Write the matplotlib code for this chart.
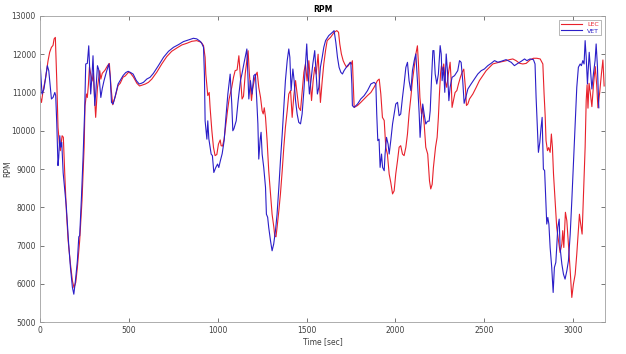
import matplotlib
matplotlib.use("Agg")
import matplotlib.pyplot as plt

# LEC (red) - time [sec] and rpm
lec_t = [0, 8, 17, 30, 45, 54, 64, 73, 79, 86, 94, 101, 108, 114, 124, 131, 139, 148, 158, 171,
         182, 191, 201, 210, 223, 236, 248, 253, 261, 266, 272, 278, 286, 293, 300, 305, 313, 323,
         336, 342, 350, 365, 380, 390, 400, 409, 423, 439, 451, 467, 479, 498, 510, 526, 545, 560,
         573, 592, 610, 629, 657, 685, 713, 741, 770, 798, 826, 854, 882, 907, 920, 929, 933, 944,
         952, 957, 967, 976, 985, 995, 1004, 1014, 1019, 1027, 1036, 1046, 1055, 1064, 1079, 1089,
         1098, 1109, 1119, 1128, 1137, 1145, 1155, 1171, 1178, 1190, 1197, 1209, 1222, 1231, 1241,
         1250, 1256, 1262, 1269, 1278, 1287, 1297, 1306, 1316, 1321, 1328, 1334, 1344, 1353, 1363,
         1372, 1381, 1391, 1400, 1410, 1419, 1428, 1438, 1447, 1456, 1466, 1475, 1485, 1494, 1503,
         1513, 1521, 1528, 1537, 1546, 1554, 1565, 1572, 1578, 1588, 1597, 1607, 1616, 1635, 1655,
         1670, 1680, 1687, 1696, 1706, 1715, 1725, 1735, 1745, 1752, 1758, 1763, 1768, 1787, 1805,
         1824, 1843, 1862, 1880, 1899, 1909, 1918, 1927, 1937, 1946, 1955, 1965, 1974, 1984, 1993,
         2002, 2012, 2021, 2030, 2040, 2049, 2059, 2068, 2077, 2087, 2096, 2106, 2115, 2124, 2130,
         2138, 2147, 2153, 2162, 2171, 2182, 2192, 2199, 2207, 2214, 2226, 2235, 2242, 2248, 2254,
         2259, 2267, 2272, 2280, 2289, 2298, 2308, 2314, 2319, 2327, 2336, 2346, 2355, 2366, 2376,
         2385, 2394, 2400, 2408, 2417, 2436, 2455, 2473, 2492, 2511, 2530, 2548, 2567, 2586, 2605,
         2623, 2642, 2661, 2680, 2699, 2717, 2736, 2758, 2777, 2796, 2815, 2830, 2837, 2843, 2848,
         2856, 2863, 2871, 2878, 2884, 2890, 2899, 2908, 2918, 2927, 2937, 2942, 2948, 2957, 2965,
         2974, 2984, 2993, 3002, 3012, 3021, 3030, 3036, 3043, 3051, 3059, 3068, 3074, 3079, 3084,
         3090, 3097, 3106, 3115, 3125, 3133, 3140, 3150, 3160, 3168, 3175]
lec_rpm = [10900, 10740, 11050, 11350, 11830, 12050, 12180, 12230, 12400, 12440, 11310, 10090, 9700,
           9480, 9870, 9830, 8870, 7910, 7130, 6520, 6080, 5900, 6040, 6430, 7130, 8170, 9570, 10650,
           10960, 10870, 11200, 11670, 11460, 11300, 11500, 11000, 10350, 11130, 11570, 11350, 11500,
           11580, 11700, 11760, 11100, 10680, 10890, 11180, 11240, 11400, 11430, 11530, 11500, 11400,
           11240, 11170, 11190, 11220, 11265, 11350, 11530, 11745, 11937, 12076, 12163, 12242, 12285,
           12337, 12355, 12311, 12224, 11919, 11480, 10920, 11000, 10610, 10000, 9570, 9350, 9380,
           9650, 9760, 9610, 9600, 9780, 10180, 10520, 10830, 11135, 11400, 11570, 11590, 11960,
           11400, 10830, 10900, 11500, 12090, 11500, 10790, 11100, 11400, 11530, 11135, 10870, 10520,
           10440, 10600, 10350, 9740, 8960, 8350, 7820, 7475, 7250, 7230, 7475, 7910, 8350, 8960,
           9570, 10090, 10520, 10960, 11050, 10350, 10900, 11310, 10960, 10610, 10530, 11000, 11530,
           11745, 11300, 11830, 11300, 10790, 11300, 11660, 11480, 12000, 11300, 10740, 11300, 11745,
           12100, 12355, 12440, 12570, 12616, 12573, 12268, 12006, 11832, 11740, 11660, 11700, 11790,
           11740, 11830, 11220, 10610, 10660, 10740, 10830, 10920, 11000, 11135, 11310, 11350, 10960,
           10350, 10270, 9570, 9390, 8870, 8650, 8350, 8430, 8870, 9220, 9570, 9610, 9390, 9350, 9570,
           9915, 10440, 10870, 11310, 11660, 12000, 12220, 11740, 10870, 10440, 10610, 10180, 9570,
           9390, 8690, 8480, 8600, 9040, 9570, 9830, 10350, 10960, 11480, 11700, 11570, 11745, 11310,
           11135, 11480, 11790, 11310, 10610, 10790, 11000, 11050, 11220, 11400, 11530, 11610, 11135,
           10660, 10700, 10830, 10960, 11135, 11310, 11440, 11570, 11660, 11745, 11770, 11790, 11810,
           11830, 11858, 11876, 11830, 11763, 11745, 11760, 11850, 11894, 11894, 11876, 11745, 10960,
           10400, 9740, 9480, 9560, 9436, 9915, 9560, 8870, 8170, 7475, 7130, 6820, 7040, 7390, 6950,
           7870, 7650, 7040, 6340, 5645, 5990, 6250, 6780, 7390, 7820, 7560, 7300, 8350, 9570, 10790,
           11200, 10590, 11240, 11000, 10630, 11200, 11675, 11200, 10600, 11000, 11500, 11850, 11170]

# VET (blue)
vet_t = [0, 11, 22, 41, 49, 64, 73, 83, 88, 94, 101, 105, 111, 116, 122, 130, 148, 161, 171, 182,
         190, 199, 210, 218, 223, 233, 242, 251, 257, 266, 274, 282, 285, 293, 298, 303, 308, 315,
         323, 330, 336, 342, 350, 360, 373, 387, 395, 402, 411, 423, 439, 453, 467, 482, 496, 510,
         524, 542, 558, 570, 582, 601, 619, 638, 666, 695, 723, 751, 779, 807, 835, 863, 882, 901,
         910, 920, 925, 929, 939, 944, 950, 963, 970, 978, 989, 999, 1006, 1015, 1025, 1036, 1046,
         1057, 1070, 1079, 1085, 1091, 1104, 1115, 1128, 1137, 1147, 1164, 1171, 1175, 1184, 1193,
         1203, 1212, 1218, 1226, 1231, 1239, 1244, 1250, 1259, 1269, 1274, 1281, 1287, 1297, 1306,
         1315, 1325, 1334, 1344, 1353, 1363, 1372, 1381, 1391, 1400, 1406, 1413, 1423, 1430, 1438,
         1447, 1456, 1466, 1475, 1485, 1494, 1501, 1509, 1516, 1525, 1535, 1546, 1553, 1561, 1569,
         1578, 1588, 1597, 1607, 1625, 1646, 1655, 1665, 1674, 1683, 1693, 1702, 1711, 1730, 1749,
         1755, 1758, 1768, 1787, 1805, 1824, 1843, 1862, 1880, 1890, 1895, 1901, 1908, 1914, 1922,
         1928, 1937, 1942, 1950, 1959, 1965, 1974, 1984, 1993, 2002, 2012, 2021, 2030, 2040, 2049,
         2059, 2068, 2077, 2087, 2096, 2106, 2115, 2124, 2134, 2139, 2147, 2154, 2162, 2171, 2181,
         2190, 2196, 2203, 2211, 2217, 2224, 2233, 2242, 2252, 2258, 2263, 2271, 2278, 2286, 2293,
         2301, 2308, 2319, 2333, 2351, 2361, 2370, 2379, 2387, 2396, 2408, 2426, 2445, 2464, 2483,
         2501, 2520, 2539, 2558, 2577, 2595, 2623, 2652, 2670, 2689, 2708, 2727, 2740, 2758, 2777,
         2786, 2792, 2800, 2805, 2813, 2820, 2826, 2830, 2833, 2840, 2847, 2852, 2858, 2864, 2871,
         2880, 2888, 2895, 2903, 2908, 2914, 2922, 2927, 2937, 2946, 2955, 2965, 2974, 2984, 2993,
         3002, 3012, 3021, 3030, 3040, 3047, 3055, 3062, 3068, 3074, 3081, 3091, 3100, 3106, 3115,
         3124, 3130, 3137, 3145]
vet_rpm = [11800, 10960, 11090, 11700, 11570, 10830, 10870, 11000, 10920, 10200, 9090, 9300, 9870,
           9570, 9700, 8900, 8000, 7040, 6430, 5910, 5730, 6080, 6600, 7230, 7260, 8260, 9300, 10520,
           11745, 11760, 12220, 11310, 10960, 11480, 11960, 11300, 10660, 11100, 11700, 11600, 11200,
           10870, 11100, 11310, 11530, 11745, 11400, 10740, 10700, 10900, 11220, 11330, 11440, 11520,
           11553, 11520, 11480, 11310, 11222, 11240, 11265, 11352, 11396, 11500, 11701, 11919, 12076,
           12180, 12250, 12329, 12372, 12416, 12400, 12337, 12285, 12180, 11480, 10260, 9780, 10260,
           9790, 9390, 9350, 8910, 9040, 9130, 9040, 9220, 9400, 9740, 10350, 10960, 11480, 10700,
           10000, 10050, 10260, 10790, 11310, 11500, 11745, 12137, 11310, 10830, 11310, 10960, 11440,
           11480, 10960, 10180, 9260, 9780, 9960, 9390, 9040, 8520, 7820, 7740, 7475, 7130, 6864,
           7040, 7390, 7820, 8520, 9220, 9915, 10610, 11310, 11830, 12137, 11920, 11050, 11614, 11310,
           10790, 10440, 10220, 10180, 10440, 11050, 11745, 12268, 11480, 10960, 11310, 11740, 12094,
           11570, 10960, 11135, 11660, 11919, 12180, 12355, 12486, 12573, 12616, 12300, 11919, 11658,
           11527, 11483, 11570, 11701, 11788, 11222, 10656, 10612, 10699, 10830, 10917, 11048, 11222,
           11265, 11222, 10438, 9741, 9780, 9043, 9392, 9043, 8956, 9392, 9828, 9650, 9392, 9741,
           10176, 10438, 10699, 10743, 10394, 10438, 10873, 11222, 11658, 11788, 11309, 11048, 11570,
           11832, 12006, 11309, 10438, 9828, 10350, 10699, 10438, 10176, 10250, 10250, 10525, 11309,
           12094, 12094, 11483, 11222, 11483, 12224, 12006, 11309, 11658, 11004, 12006, 11570, 10786,
           11135, 11396, 11440, 11570, 11832, 11788, 11309, 10717, 10870, 11091, 11222, 11352, 11483,
           11570, 11614, 11700, 11762, 11832, 11790, 11814, 11858, 11788, 11701, 11760, 11814, 11876,
           11832, 11876, 11858, 11745, 10873, 10002, 9436, 9700, 10089, 10350, 9570, 8999, 8960, 8172,
           7562, 7736, 7560, 6951, 6429, 5775, 6429, 6560, 6951, 7475, 7692, 6951, 6516, 6254, 6124,
           6341, 6603, 7300, 8172, 9130, 10176, 11135, 11658, 11745, 11700, 11832, 11745, 12355, 11920,
           11222, 12050, 11480, 11091, 11500, 11832, 12268, 11700, 10600]

x_ticks = [0, 500, 1000, 1500, 2000, 2500, 3000]
y_ticks = [5000, 6000, 7000, 8000, 9000, 10000, 11000, 12000, 13000]

fig = plt.figure(figsize=(6.26, 3.54), dpi=100)
ax = fig.add_axes([0.064, 0.090, 0.9025, 0.865])

ax.plot(lec_t, lec_rpm, color='#e8212b', linewidth=0.8, label='LEC')
ax.plot(vet_t, vet_rpm, color='#2b1ec8', linewidth=0.8, label='VET')

ax.set_xlim(0, 3180)
ax.set_ylim(5000, 13000)
ax.set_xticks(x_ticks)
ax.set_yticks(y_ticks)
ax.tick_params(direction='in', top=True, right=True, length=3, width=0.5,
               labelsize=5.5, colors='#404040', pad=3)
for s in ax.spines.values():
    s.set_color('#a0a0a0')
    s.set_linewidth(0.6)

ax.set_title('RPM', fontsize=5.5, fontweight='bold', pad=3)
ax.set_xlabel('Time [sec]', fontsize=5.5, color='#404040', labelpad=1)
ax.set_ylabel('RPM', fontsize=5.5, color='#404040')
ax.yaxis.set_label_coords(-0.05, 0.5)

leg = ax.legend(loc='upper right', fontsize=4.5, frameon=True, fancybox=False,
                edgecolor='#808080', handlelength=3.5, borderpad=0.3,
                labelspacing=0.2, handletextpad=0.8, borderaxespad=0.6)
leg.get_frame().set_linewidth(0.5)
for txt, line in zip(leg.get_texts(), leg.get_lines()):
    txt.set_color(line.get_color())

fig.savefig('out.png', dpi=100)
